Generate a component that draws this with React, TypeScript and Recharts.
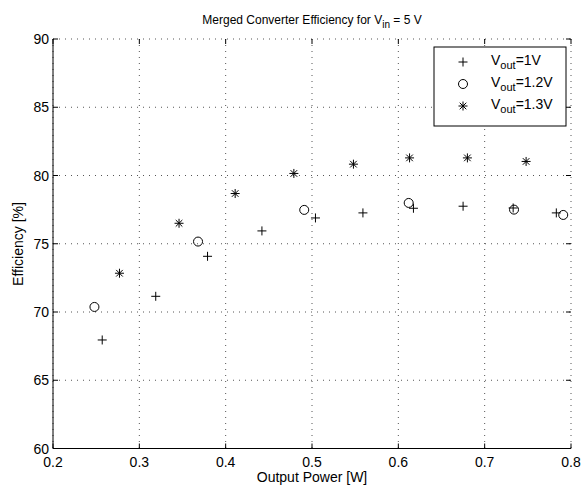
import {
  CartesianGrid,
  Customized,
  Scatter,
  ScatterChart,
  XAxis,
  YAxis,
} from "recharts";

// output power [W] and efficiency [%] for each output voltage
const power1V = [0.257, 0.319, 0.379, 0.442, 0.504, 0.559, 0.6175, 0.675, 0.733, 0.783];
const eff1V = [67.95, 71.15, 74.08, 75.94, 76.89, 77.26, 77.6, 77.75, 77.62, 77.26];

const power12V = [0.248, 0.368, 0.491, 0.612, 0.734, 0.791];
const eff12V = [70.37, 75.16, 77.48, 77.99, 77.5, 77.11];

const power13V = [0.277, 0.346, 0.411, 0.479, 0.548, 0.613, 0.68, 0.748];
const eff13V = [72.84, 76.5, 78.68, 80.15, 80.83, 81.29, 81.29, 81.03];

const xTicks = [0.2, 0.3, 0.4, 0.5, 0.6, 0.7, 0.8];
const yTicks = [60, 65, 70, 75, 80, 85, 90];

const legendLabels = ["1V", "1.2V", "1.3V"];

const W = 582;
const H = 488;
const TOP = 39;
const BOTTOM = 448.5;
const LEFT = 53;
const RIGHT = 571;
const FONT = "'Liberation Sans', Arial, sans-serif";

const toPoints = (xs: number[], ys: number[]) => xs.map((x, i) => ({ x, y: ys[i] }));

const s1 = toPoints(power1V, eff1V);
const s2 = toPoints(power12V, eff12V);
const s3 = toPoints(power13V, eff13V);

function PlusMark({ cx, cy }: { cx: number; cy: number }) {
  return (
    <g stroke="#000" strokeWidth={1}>
      <line x1={cx - 4.5} y1={cy} x2={cx + 4.5} y2={cy} />
      <line x1={cx} y1={cy - 4.5} x2={cx} y2={cy + 4.5} />
    </g>
  );
}

function CircleMark({ cx, cy }: { cx: number; cy: number }) {
  return <circle cx={cx} cy={cy} r={4.5} fill="none" stroke="#000" strokeWidth={1} />;
}

function StarMark({ cx, cy }: { cx: number; cy: number }) {
  const d = 3.3;
  return (
    <g stroke="#000" strokeWidth={1}>
      <line x1={cx - 4.5} y1={cy} x2={cx + 4.5} y2={cy} />
      <line x1={cx} y1={cy - 4.5} x2={cx} y2={cy + 4.5} />
      <line x1={cx - d} y1={cy - d} x2={cx + d} y2={cy + d} />
      <line x1={cx - d} y1={cy + d} x2={cx + d} y2={cy - d} />
    </g>
  );
}

const marks = [PlusMark, CircleMark, StarMark];

function XTick({ x, payload }: any) {
  return (
    <g>
      <line x1={x} y1={BOTTOM} x2={x} y2={BOTTOM - 5} stroke="#000" />
      <line x1={x} y1={TOP} x2={x} y2={TOP + 5} stroke="#000" />
      <text x={x} y={467} textAnchor="middle" fontSize={14} fontFamily={FONT} fill="#000">
        {payload.value}
      </text>
    </g>
  );
}

function YTick({ y, payload }: any) {
  return (
    <g>
      <line x1={LEFT} y1={y} x2={LEFT + 5} y2={y} stroke="#000" />
      <line x1={RIGHT} y1={y} x2={RIGHT - 5} y2={y} stroke="#000" />
      <text x={49} y={y + 5} textAnchor="end" fontSize={14} fontFamily={FONT} fill="#000">
        {payload.value}
      </text>
    </g>
  );
}

function Decorations() {
  const rows = [62, 84, 106];
  return (
    <g fontFamily={FONT} fill="#000">
      <text x={(LEFT + RIGHT) / 2} y={24} textAnchor="middle" fontSize={12}>
        Merged Converter Efficiency for V
        <tspan fontSize={10} dy={4}>in</tspan>
        <tspan dy={-4}> = 5 V</tspan>
      </text>
      <text x={(LEFT + RIGHT) / 2} y={482} textAnchor="middle" fontSize={14}>
        Output Power [W]
      </text>
      <text
        x={23}
        y={244}
        textAnchor="middle"
        fontSize={14}
        transform="rotate(-90 23 244)"
      >
        Efficiency [%]
      </text>
      <rect x={434} y={47} width={132} height={79} fill="#fff" stroke="#000" strokeWidth={1} />
      {rows.map((ry, i) => {
        const Mark = marks[i];
        return (
          <g key={i}>
            <Mark cx={463} cy={ry} />
            <text x={491} y={ry + 3} fontSize={14}>
              V<tspan fontSize={11} dy={4}>out</tspan>
              <tspan dy={-4}>={legendLabels[i]}</tspan>
            </text>
          </g>
        );
      })}
    </g>
  );
}

export default function App() {
  return (
    <div style={{ position: "absolute", left: 0, top: 0, width: W, height: H, background: "#fff" }}>
      <ScatterChart width={W} height={H} margin={{ top: TOP, right: W - RIGHT, left: 0, bottom: 0 }}>
        <CartesianGrid stroke="#555" strokeDasharray="1 5" />
        <XAxis
          type="number"
          dataKey="x"
          domain={[0.2, 0.8]}
          ticks={xTicks}
          height={H - BOTTOM}
          axisLine={{ stroke: "#000" }}
          tickLine={false}
          tick={<XTick />}
          interval={0}
        />
        <XAxis
          xAxisId="top"
          orientation="top"
          type="number"
          dataKey="x"
          domain={[0.2, 0.8]}
          height={0}
          axisLine={{ stroke: "#000" }}
          tickLine={false}
          tick={false}
        />
        <YAxis
          type="number"
          dataKey="y"
          domain={[60, 90]}
          ticks={yTicks}
          width={LEFT}
          axisLine={{ stroke: "#000" }}
          tickLine={false}
          tick={<YTick />}
          interval={0}
        />
        <YAxis
          yAxisId="right"
          orientation="right"
          type="number"
          dataKey="y"
          domain={[60, 90]}
          width={0}
          axisLine={{ stroke: "#000" }}
          tickLine={false}
          tick={false}
        />
        <Scatter data={s1} shape={(p: any) => <PlusMark cx={p.cx} cy={p.cy} />} isAnimationActive={false} />
        <Scatter data={s2} shape={(p: any) => <CircleMark cx={p.cx} cy={p.cy} />} isAnimationActive={false} />
        <Scatter data={s3} shape={(p: any) => <StarMark cx={p.cx} cy={p.cy} />} isAnimationActive={false} />
        <Customized component={<Decorations />} />
      </ScatterChart>
    </div>
  );
}
